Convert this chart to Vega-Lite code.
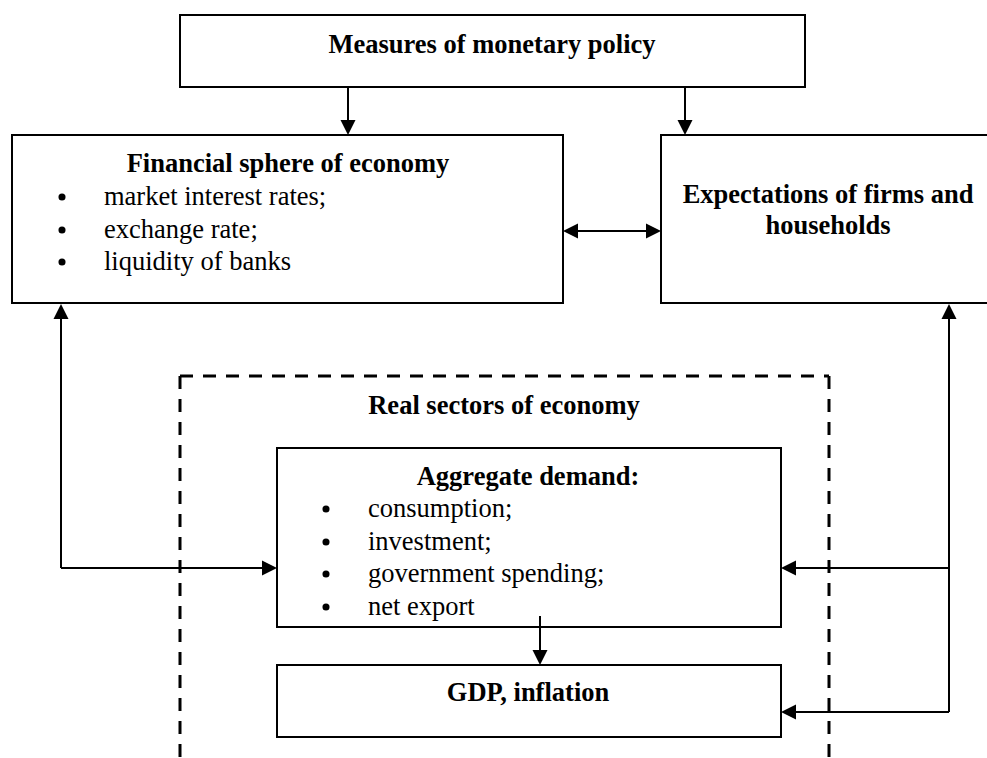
{
  "$schema": "https://vega.github.io/schema/vega-lite/v6.json",
  "width": 987,
  "height": 758,
  "padding": 0,
  "autosize": {"type": "fit", "contains": "padding"},
  "background": "white",
  "config": {"view": {"stroke": null}},
  "datasets": {
    "boxes": [
      {"name": "Measures", "x": 180, "x2": 805, "y": 15, "y2": 87},
      {"name": "Financial", "x": 12, "x2": 563, "y": 135, "y2": 303},
      {"name": "Expectations", "x": 661, "x2": 1000, "y": 135, "y2": 303},
      {"name": "Aggregate", "x": 277, "x2": 781, "y": 448, "y2": 627},
      {"name": "GDP", "x": 277, "x2": 781, "y": 665, "y2": 737}
    ],
    "dashed": [
      {"x": 180, "x2": 180, "y": 376, "y2": 800},
      {"x": 180, "x2": 829, "y": 376, "y2": 376},
      {"x": 829, "x2": 829, "y": 376, "y2": 800}
    ],
    "lines": [
      {"x": 348, "x2": 348, "y": 87, "y2": 130},
      {"x": 685, "x2": 685, "y": 87, "y2": 130},
      {"x": 568, "x2": 656, "y": 231, "y2": 231},
      {"x": 61, "x2": 61, "y": 310, "y2": 568},
      {"x": 61, "x2": 272, "y": 568, "y2": 568},
      {"x": 949, "x2": 949, "y": 310, "y2": 712},
      {"x": 786, "x2": 949, "y": 568, "y2": 568},
      {"x": 786, "x2": 949, "y": 712, "y2": 712},
      {"x": 540, "x2": 540, "y": 616, "y2": 660}
    ],
    "heads": [
      {"x": 348, "y": 135, "dir": "down"},
      {"x": 685, "y": 135, "dir": "down"},
      {"x": 563, "y": 231, "dir": "left"},
      {"x": 661, "y": 231, "dir": "right"},
      {"x": 61, "y": 304, "dir": "up"},
      {"x": 277, "y": 568, "dir": "right"},
      {"x": 949, "y": 304, "dir": "up"},
      {"x": 781, "y": 568, "dir": "left"},
      {"x": 781, "y": 712, "dir": "left"},
      {"x": 540, "y": 665, "dir": "down"}
    ],
    "titles": [
      {"text": "Measures of monetary policy", "x": 492, "y": 45},
      {"text": "Financial sphere of economy", "x": 288, "y": 164},
      {"text": "Expectations of firms and", "x": 828, "y": 195},
      {"text": "households", "x": 828, "y": 226},
      {"text": "Real sectors of economy", "x": 504, "y": 406},
      {"text": "Aggregate demand:", "x": 528, "y": 477},
      {"text": "GDP, inflation", "x": 528, "y": 693}
    ],
    "items": [
      {"text": "market interest rates;", "x": 104, "bx": 62, "y": 197},
      {"text": "exchange rate;", "x": 104, "bx": 62, "y": 230},
      {"text": "liquidity of banks", "x": 104, "bx": 62, "y": 262},
      {"text": "consumption;", "x": 368, "bx": 326, "y": 509},
      {"text": "investment;", "x": 368, "bx": 326, "y": 542},
      {"text": "government spending;", "x": 368, "bx": 326, "y": 574},
      {"text": "net export", "x": 368, "bx": 326, "y": 607}
    ]
  },
  "layer": [
    {
      "data": {"name": "boxes"},
      "mark": {"type": "rect", "fill": "white", "stroke": "black", "strokeWidth": 2, "clip": true},
      "encoding": {
        "x": {"field": "x", "type": "quantitative", "scale": {"domain": [0, 987], "nice": false, "zero": false}, "axis": null},
        "x2": {"field": "x2"},
        "y": {"field": "y", "type": "quantitative", "scale": {"domain": [0, 758], "reverse": true, "nice": false, "zero": false}, "axis": null},
        "y2": {"field": "y2"}
      }
    },
    {
      "data": {"name": "dashed"},
      "mark": {"type": "rule", "stroke": "black", "strokeWidth": 3, "strokeDash": [13, 10], "clip": true},
      "encoding": {
        "x": {"field": "x", "type": "quantitative"},
        "x2": {"field": "x2"},
        "y": {"field": "y", "type": "quantitative"},
        "y2": {"field": "y2"}
      }
    },
    {
      "data": {"name": "lines"},
      "mark": {"type": "rule", "stroke": "black", "strokeWidth": 2},
      "encoding": {
        "x": {"field": "x", "type": "quantitative"},
        "x2": {"field": "x2"},
        "y": {"field": "y", "type": "quantitative"},
        "y2": {"field": "y2"}
      }
    },
    {
      "data": {"name": "heads"},
      "mark": {"type": "point", "filled": true, "color": "black", "opacity": 1, "size": 225},
      "encoding": {
        "x": {"field": "x", "type": "quantitative"},
        "y": {"field": "y", "type": "quantitative"},
        "shape": {
          "field": "dir", "type": "nominal", "legend": null,
          "scale": {
            "domain": ["down", "up", "left", "right"],
            "range": ["M0,0L-1,-2L1,-2Z", "M0,0L-1,2L1,2Z", "M0,0L2,-1L2,1Z", "M0,0L-2,-1L-2,1Z"]
          }
        }
      }
    },
    {
      "data": {"name": "titles"},
      "mark": {"type": "text", "font": "Liberation Serif", "fontWeight": "bold", "fontSize": 26.5, "align": "center", "baseline": "middle", "color": "black"},
      "encoding": {
        "x": {"field": "x", "type": "quantitative"},
        "y": {"field": "y", "type": "quantitative"},
        "text": {"field": "text"}
      }
    },
    {
      "data": {"name": "items"},
      "mark": {"type": "text", "font": "Liberation Serif", "fontSize": 26.5, "align": "left", "baseline": "middle", "color": "black"},
      "encoding": {
        "x": {"field": "x", "type": "quantitative"},
        "y": {"field": "y", "type": "quantitative"},
        "text": {"field": "text"}
      }
    },
    {
      "data": {"name": "items"},
      "mark": {"type": "point", "shape": "circle", "filled": true, "color": "black", "opacity": 1, "size": 50},
      "encoding": {
        "x": {"field": "bx", "type": "quantitative"},
        "y": {"field": "y", "type": "quantitative"}
      }
    }
  ]
}
